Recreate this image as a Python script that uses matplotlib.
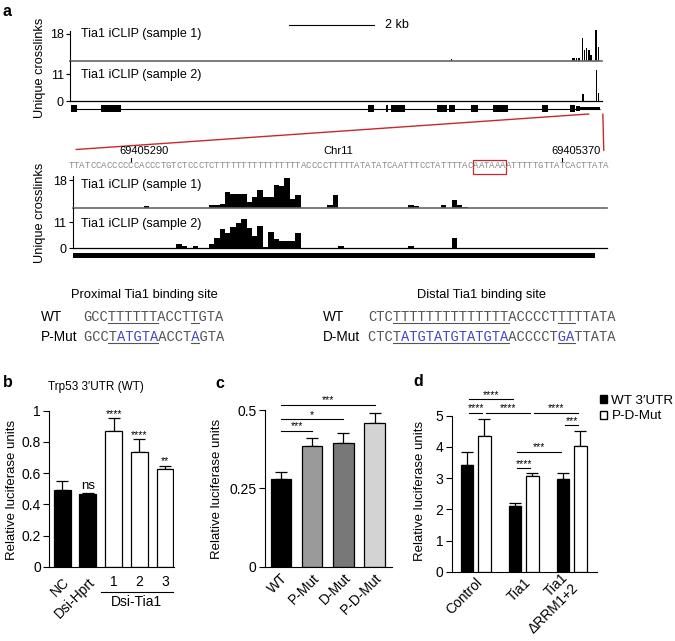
import matplotlib
matplotlib.use("Agg")
import matplotlib.pyplot as plt
import matplotlib.transforms as mtransforms
from matplotlib.patches import ConnectionPatch, Patch, Rectangle
import numpy as np

plt.rcParams["font.family"] = ["Liberation Sans", "DejaVu Sans"]
plt.rcParams["axes.linewidth"] = 0.8
plt.rcParams["xtick.major.width"] = 0.8
plt.rcParams["ytick.major.width"] = 0.8

# ---------------- panel a: gene overview (kb) ----------------
exon_start = [0.03, 0.72, 7.01, 7.42, 7.55, 8.62, 8.90, 9.43, 9.94, 11.09, 11.74, 11.88, 11.99]
exon_end = [0.17, 1.19, 7.14, 7.47, 7.87, 8.85, 9.04, 9.58, 10.28, 11.23, 11.87, 11.98, 12.45]
exon_size = [1, 1, 1, 1, 1, 1, 1, 1, 1, 1, 1, 0.8, 0.6]
scale_start_kb = 5.15
scale_len_kb = 2.0
zoom_kb = (12.19, 12.52)

clip1_kb = [8.95, 11.80, 11.84, 11.88, 11.94, 12.02, 12.07, 12.12, 12.18, 12.22, 12.34, 12.40]
clip1_val = [1.3, 1.8, 2.0, 2.2, 2.0, 15.1, 7.3, 8.5, 7.3, 4.0, 20.5, 9.6]
clip2_kb = [12.04, 12.35, 12.40]
clip2_val = [2.8, 12.8, 3.5]

# ---------------- panel a: zoom on the 3'UTR (bp) ----------------
chrom = "Chr11"
seq_start = 69405279
sequence = ("TTATCCACCCCCCACCCTGTCTCCCTC" + "T" * 16 +
            "ACCCCTTTTTATATATCAATTTCCTATTTTACAATAAAATTTTTGTTATCACTTATA")
pas_start, pas_len = 75, 6  # AATAAA
coord_ticks = [69405290, 69405370]
utr_span = (0.9, 97.6)

zoom1_pos = [14, 26, 27, 28, 29, 30, 31, 32, 33, 34, 35, 36, 37, 38, 39, 40, 41, 42,
             48, 49, 63, 64, 69, 71, 72, 73]
zoom1_val = [1, 2, 2, 2.6, 10.2, 8.6, 8.6, 8.6, 4, 7.2, 11.6, 7.2, 7.2, 14.6, 14, 19, 5.6, 8,
             1.5, 8, 2, 1, 2, 5.2, 2, 0.6]
zoom2_pos = [20, 21, 23, 26, 27, 28, 29, 30, 31, 32, 33, 34, 35, 36, 37, 38, 39, 40, 41, 42,
             50, 63, 71]
zoom2_val = [1.9, 1, 0.9, 1.9, 4.5, 8, 6.5, 9, 10.4, 12.3, 8.4, 5.2, 9.3, 0.6, 6.7, 4.1, 3, 3, 3, 6.5,
             0.9, 0.9, 4.2]

# binding sites
prox_wt = "GCCTTTTTTACCTTGTA"
prox_mut = "GCCTATGTAACCTAGTA"
prox_blue = [4, 5, 6, 7, 8, 13]
prox_lines = [(3, 9), (13, 14)]
dist_wt = "CTC" + "T" * 14 + "ACCCCTTTTTATA"
dist_mut = "CTCTATGTATGTATGTAACCCCTGATTATA"
dist_blue = list(range(4, 17)) + [23, 24]
dist_lines = [(3, 17), (23, 25)]

# ---------------- panel b ----------------
b_labels = ["NC", "Dsi-Hprt", "1", "2", "3"]
b_means = [0.491, 0.466, 0.872, 0.733, 0.624]
b_err = [0.058, 0.004, 0.079, 0.083, 0.023]
b_colors = ["black", "black", "white", "white", "white"]
b_sig = ["", "ns", "****", "****", "**"]

# ---------------- panel c ----------------
c_labels = ["WT", "P-Mut", "D-Mut", "P-D-Mut"]
c_means = [0.279, 0.386, 0.394, 0.460]
c_err = [0.022, 0.026, 0.034, 0.031]
c_colors = ["black", "#9a9a9a", "#787878", "#d3d3d3"]
c_sig_a = [0, 0, 0]
c_sig_b = [1, 2, 3]
c_sig_y = [0.434, 0.472, 0.517]
c_sig_txt = ["***", "*", "***"]

# ---------------- panel d ----------------
d_groups = ["Control", "Tia1", "Tia1\nΔRRM1+2"]
d_wt = [3.42, 2.10, 2.96]
d_wt_err = [0.43, 0.11, 0.21]
d_mut = [4.36, 3.07, 4.03]
d_mut_err = [0.52, 0.10, 0.48]
d_series = ["WT 3′UTR", "P-D-Mut"]
# bars numbered Control WT, Control mut, Tia1 WT, Tia1 mut, dRRM WT, dRRM mut
d_sig_a = [0, 0, 1, 3, 4, 2, 2]
d_sig_b = [2, 1, 3, 5, 5, 4, 3]
d_sig_y = [5.53, 5.10, 5.10, 5.10, 4.70, 3.85, 3.33]
d_sig_txt = ["****", "****", "****", "****", "***", "***", "****"]

W, H = 675, 641
fig = plt.figure(figsize=(W / 100, H / 100), dpi=100)

ov = fig.add_axes([0, 0, 1, 1], zorder=10)
ov.set_xlim(0, W)
ov.set_ylim(H, 0)
ov.axis("off")


def px_box(l, t, r, b):
    return fig.add_axes([l / W, 1 - b / H, (r - l) / W, (b - t) / H])


def blend(ax):
    return mtransforms.blended_transform_factory(ax.transData, ov.transData)


def crosslink_track(ax, x, h, width, xlim, ytop, yticks, base_color, base_lw):
    ax.bar(x, h, width=width, align="edge", color="black", linewidth=0, clip_on=False)
    ax.set_xlim(*xlim)
    ax.set_ylim(0, ytop)
    ax.set_yticks(yticks)
    ax.set_xticks([])
    for s in ("top", "right", "bottom"):
        ax.spines[s].set_visible(False)
    ax.axhline(0, color=base_color, lw=base_lw, clip_on=False, zorder=3)
    ax.tick_params(axis="y", length=3, pad=1.5, labelsize=9)
    ax.patch.set_visible(False)


# ---- overview tracks ----
kb_lim = (0, 12.5)
ax_t1 = px_box(70, 31, 602, 61)
ax_t2 = px_box(70, 61, 602, 101)
ax_gene = px_box(70, 103, 602, 114)
crosslink_track(ax_t1, clip1_kb, clip1_val, 0.035, kb_lim, 20, [18], "#666666", 1.2)
crosslink_track(ax_t2, clip2_kb, clip2_val, 0.035, kb_lim, 16.6, [0, 11], "black", 0.9)

ax_gene.hlines(0, exon_start[0], exon_end[-1], color="black", lw=0.8)
ax_gene.bar(exon_start, [2 * s for s in exon_size], bottom=[-s for s in exon_size],
            width=np.subtract(exon_end, exon_start), align="edge", color="black", linewidth=0)
ax_gene.set_xlim(*kb_lim)
ax_gene.set_ylim(-1.8, 1.8)
ax_gene.axis("off")

ov.plot([scale_start_kb, scale_start_kb + scale_len_kb], [25, 25], transform=blend(ax_t1),
        color="black", lw=0.8)
ov.annotate("2 kb", (scale_start_kb + scale_len_kb, 25), xycoords=blend(ax_t1),
            xytext=(8, 0), textcoords="offset points", ha="left", va="center", fontsize=9)

ov.text(81, 34, "Tia1 iCLIP (sample 1)", ha="left", va="center", fontsize=9)
ov.text(81, 75, "Tia1 iCLIP (sample 2)", ha="left", va="center", fontsize=9)
ov.text(40, 68, "Unique crosslinks", rotation=90, ha="center", va="center", fontsize=9.2)

# ---- zoomed tracks ----
z_lim = (seq_start + 0.78, seq_start + 99.8)
ax_z1 = px_box(72.7, 176, 607, 207.7)
ax_z2 = px_box(72.7, 207.7, 607, 248.3)
ax_utr = px_box(72.7, 253.5, 607, 258.5)
crosslink_track(ax_z1, seq_start + np.array(zoom1_pos), zoom1_val, 1, z_lim, 20.6, [18],
                "#666666", 1.2)
crosslink_track(ax_z2, seq_start + np.array(zoom2_pos), zoom2_val, 1, z_lim, 17.0, [0, 11],
                "black", 0.9)
ax_utr.barh(0, utr_span[1] - utr_span[0], left=seq_start + utr_span[0], height=1,
            color="black", linewidth=0)
ax_utr.set_xlim(*z_lim)
ax_utr.set_ylim(-0.5, 0.5)
ax_utr.axis("off")

ov.text(81, 185, "Tia1 iCLIP (sample 1)", ha="left", va="center", fontsize=9)
ov.text(81, 224, "Tia1 iCLIP (sample 2)", ha="left", va="center", fontsize=9)
ov.text(40, 213, "Unique crosslinks", rotation=90, ha="center", va="center", fontsize=9.2)

zt = blend(ax_z1)
for i, ch in enumerate(sequence):
    ov.text(seq_start + i + 0.5, 166, ch, transform=zt, ha="center", va="center",
            fontsize=6.5, family="Liberation Mono", color="#8a8a8a")
ov.add_patch(Rectangle((seq_start + pas_start, 159.5), pas_len, 14.5, transform=zt,
                       fill=False, ec="#c8282d", lw=0.9))
for pos in coord_ticks:
    ov.plot([pos + 0.5, pos + 0.5], [157.5, 162], transform=zt, color="black", lw=0.8)
    ov.annotate(str(pos), (pos + 0.5, 151.5), xycoords=zt, xytext=(10, 0),
                textcoords="offset points", ha="center", va="center", fontsize=8)
ov.text(seq_start + len(sequence) / 2, 151.5, chrom, transform=zt, ha="center", va="center",
        fontsize=8)

for xa, ya, xb, yb in [(zoom_kb[0], 114, seq_start + 1.4, 149.5),
                       (zoom_kb[1], 114, seq_start + 99.2, 150.5)]:
    con = ConnectionPatch((xa, ya), (xb, yb), coordsA=blend(ax_gene), coordsB=zt,
                          color="#c8282d", lw=1.0)
    fig.add_artist(con)

# ---- binding sites ----
CW = 0.6 * 9.92 * 100 / 72


def draw_site(x0, y, seq, blue_idx, lines):
    black = "".join(" " if i in blue_idx else c for i, c in enumerate(seq))
    blue = "".join(c if i in blue_idx else " " for i, c in enumerate(seq))
    ov.text(x0, y, black, family="Liberation Mono", fontsize=9.92, color="#555555",
            ha="left", va="center")
    if blue.strip():
        ov.text(x0, y, blue, family="Liberation Mono", fontsize=9.92, color="#4646c8",
                ha="left", va="center")
    for a, b in lines:
        ov.plot([x0 + a * CW, x0 + b * CW], [y + 6, y + 6], color="#555555", lw=0.8)


ov.text(144.5, 295, "Proximal Tia1 binding site", ha="center", va="center", fontsize=9.3)
ov.text(481.6, 295, "Distal Tia1 binding site", ha="center", va="center", fontsize=9.3)
ov.text(41, 317, "WT", ha="left", va="center", fontsize=9.8)
ov.text(41, 337, "P-Mut", ha="left", va="center", fontsize=9.8)
ov.text(323, 317, "WT", ha="left", va="center", fontsize=9.8)
ov.text(323, 337, "D-Mut", ha="left", va="center", fontsize=9.8)
draw_site(83.5, 317, prox_wt, [], prox_lines)
draw_site(83.5, 337, prox_mut, prox_blue, prox_lines)
draw_site(368, 317, dist_wt, [], dist_lines)
draw_site(368, 337, dist_mut, dist_blue, dist_lines)


# ---- bar panels ----
def style_bars(ax, pad):
    for s in ("top", "right"):
        ax.spines[s].set_visible(False)
    ax.tick_params(axis="y", length=4, pad=2, labelsize=10)
    ax.tick_params(axis="x", length=0, pad=pad, labelsize=10)
    ax.patch.set_visible(False)


def rotate(labels):
    for t in labels:
        t.set_rotation(45)
        t.set_ha("right")
        t.set_rotation_mode("anchor")


def star(ax, text, x, y, dy, size):
    ax.annotate(text, (x, y), xytext=(0, dy), textcoords="offset points", ha="center",
                va="baseline", fontsize=size, annotation_clip=False)


# b
ax_b = px_box(49.3, 410.7, 174, 566.7)
b_x = np.arange(len(b_means))
ax_b.errorbar(b_x, b_means, yerr=[np.zeros(len(b_err)), b_err], fmt="none", ecolor="black",
              elinewidth=0.9, capsize=4, capthick=0.9, zorder=1)
ax_b.bar(b_x, b_means, width=0.66, color=b_colors, edgecolor="black", linewidth=0.9, zorder=2)
ax_b.set_xlim(-0.5, 4.35)
ax_b.set_ylim(0, 1)
ax_b.set_yticks([0, 0.2, 0.4, 0.6, 0.8, 1])
ax_b.set_yticklabels(["0", "0.2", "0.4", "0.6", "0.8", "1"])
ax_b.set_xticks(b_x)
tl = ax_b.set_xticklabels(b_labels)
rotate(tl[:2])
style_bars(ax_b, 6)
for xi, m, e, s in zip(b_x, b_means, b_err, b_sig):
    if s == "ns":
        star(ax_b, s, xi, m + e, 3.5, 9.5)
    elif s:
        star(ax_b, s, xi, m + e, 1.2, 7.5)
ov.plot([1.5, 4.3], [591.7, 591.7], transform=blend(ax_b), color="black", lw=0.8)
ov.text(2.9, 602, "Dsi-Tia1", transform=blend(ax_b), ha="center", va="center", fontsize=10)
ov.text(48, 387, "Trp53 3′UTR (WT)", ha="left", va="center", fontsize=8.5)
ov.text(11.7, 490, "Relative luciferase units", rotation=90, ha="center", va="center",
        fontsize=9.5)

# c
ax_c = px_box(265, 410, 391.7, 566.7)
c_x = np.arange(len(c_means))
ax_c.errorbar(c_x, c_means, yerr=[np.zeros(len(c_err)), c_err], fmt="none", ecolor="black",
              elinewidth=0.9, capsize=4, capthick=0.9, zorder=1)
ax_c.bar(c_x, c_means, width=0.66, color=c_colors, edgecolor="black", linewidth=0.9, zorder=2)
ax_c.set_xlim(-0.51, 3.55)
ax_c.set_ylim(0, 0.5)
ax_c.set_yticks([0, 0.25, 0.5])
ax_c.set_yticklabels(["0", "0.25", "0.5"])
ax_c.set_xticks(c_x)
rotate(ax_c.set_xticklabels(c_labels))
style_bars(ax_c, 3)
for a, b, y, s in zip(c_sig_a, c_sig_b, c_sig_y, c_sig_txt):
    ax_c.plot([c_x[a], c_x[b]], [y, y], color="black", lw=0.8, clip_on=False)
    star(ax_c, s, (c_x[a] + c_x[b]) / 2, y, 0.8, 7.5)
ov.text(216.7, 489, "Relative luciferase units", rotation=90, ha="center", va="center",
        fontsize=9.5)

# d
ax_d = px_box(451.7, 415.7, 596.7, 571.7)
g = np.arange(len(d_groups))
off, bw = 0.18, 0.26
ax_d.errorbar(g - off, d_wt, yerr=[np.zeros(3), d_wt_err], fmt="none", ecolor="black",
              elinewidth=0.9, capsize=4, capthick=0.9, zorder=1)
ax_d.errorbar(g + off, d_mut, yerr=[np.zeros(3), d_mut_err], fmt="none", ecolor="black",
              elinewidth=0.9, capsize=4, capthick=0.9, zorder=1)
ax_d.bar(g - off, d_wt, width=bw, color="black", edgecolor="black", linewidth=0.9, zorder=2)
ax_d.bar(g + off, d_mut, width=bw, color="white", edgecolor="black", linewidth=0.9, zorder=2)
ax_d.set_xlim(-0.5, 2.52)
ax_d.set_ylim(0, 5)
ax_d.set_yticks(range(6))
ax_d.set_xticks(g)
dl = ax_d.set_xticklabels(d_groups)
style_bars(ax_d, 3)
rotate(dl)
dl[-1].set_va("center")
dl[-1].set_linespacing(1.0)
dl[-1].set_transform(dl[-1].get_transform() +
                     mtransforms.ScaledTranslation(-1 / 100, -5 / 100, fig.dpi_scale_trans))
bar_x = np.ravel(np.column_stack([g - off, g + off]))
for a, b, y, s in zip(d_sig_a, d_sig_b, d_sig_y, d_sig_txt):
    xa, xb = bar_x[a] + 0.04, bar_x[b] - 0.04
    ax_d.plot([xa, xb], [y, y], color="black", lw=0.8, clip_on=False)
    star(ax_d, s, (xa + xb) / 2, y, 0.8, 7.5)
ax_d.legend([Patch(fc="black", ec="black"), Patch(fc="white", ec="black")], d_series,
            loc="upper left", bbox_to_anchor=(600 / W, 1 - 395 / H), bbox_transform=fig.transFigure,
            frameon=False, fontsize=9.7, handlelength=0.55, handleheight=0.55, handletextpad=0.3,
            labelspacing=0.25, borderaxespad=0, borderpad=0)
ov.text(420, 491, "Relative luciferase units", rotation=90, ha="center", va="center",
        fontsize=9.5)

# panel letters
for lx, ly, letter in [(2.5, 11.5, "a"), (2.5, 382.5, "b"), (215, 383, "c"), (413, 382, "d")]:
    ov.text(lx, ly, letter, ha="left", va="center", fontsize=11.5, fontweight="bold")

fig.savefig("out.png", dpi=100)
